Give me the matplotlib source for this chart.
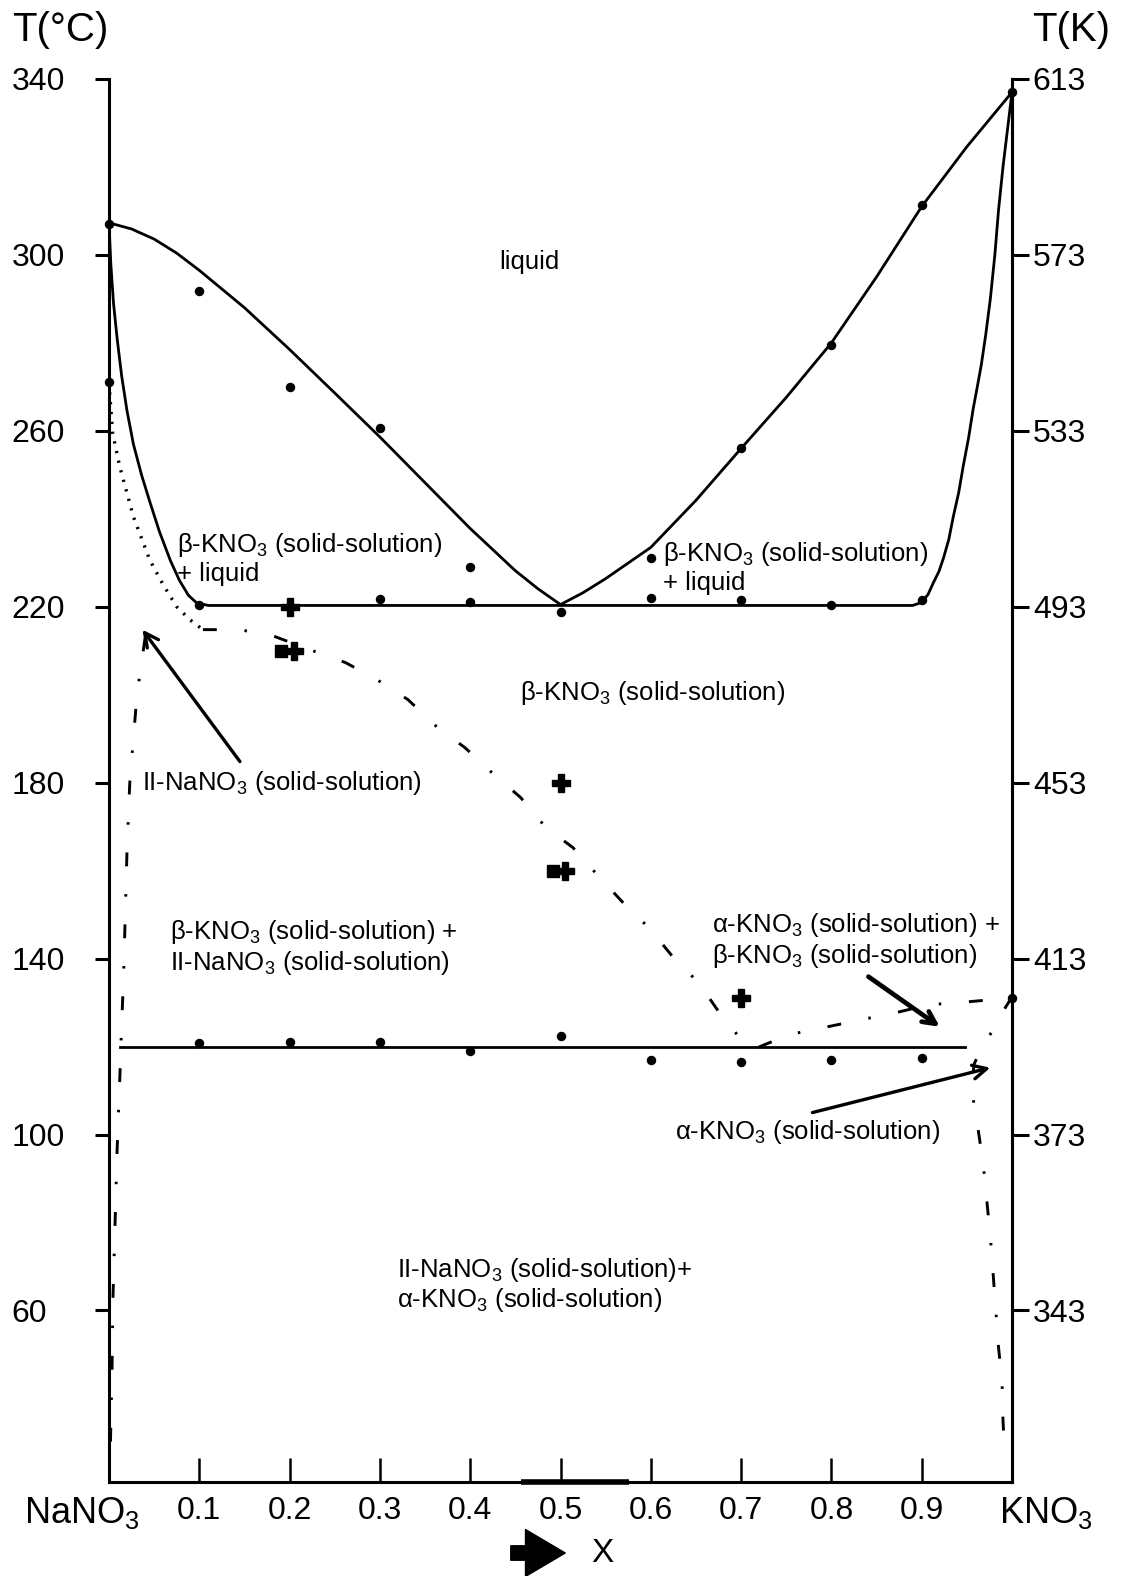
import matplotlib
matplotlib.use('Agg')
import matplotlib.pyplot as plt
import matplotlib.patches as mpatches

plt.rcParams['font.family'] = ['Liberation Sans', 'DejaVu Sans']
plt.rcParams['mathtext.fontset'] = 'custom'
plt.rcParams['mathtext.rm'] = 'Liberation Sans'
plt.rcParams['lines.scale_dashes'] = False

# ---------------- data (x = mole fraction KNO3, T in °C) ----------------
# liquidus
liq_left_x = [0.0, 0.025, 0.05, 0.075, 0.1, 0.15, 0.2, 0.25, 0.3, 0.35, 0.4, 0.45, 0.475, 0.5]
liq_left_T = [307.3, 305.9, 303.6, 300.4, 296.5, 288.0, 278.5, 268.6, 258.6, 248.2, 237.8, 228.2, 224.1, 220.5]
liq_right_x = [0.5, 0.525, 0.55, 0.6, 0.65, 0.7, 0.75, 0.8, 0.85, 0.9, 0.95, 1.0]
liq_right_T = [220.5, 223.2, 226.4, 233.5, 244.2, 256.0, 267.6, 280.0, 295.0, 311.0, 324.6, 337.0]
# solidus (left branch, eutectic line, right branch)
sol_x = [0.0, 0.002, 0.005, 0.009, 0.014, 0.02, 0.027, 0.036, 0.045, 0.056, 0.068, 0.078,
         0.088, 0.097, 0.11,
         0.89, 0.9, 0.907, 0.913, 0.919, 0.924, 0.93, 0.935, 0.941, 0.946, 0.952, 0.957,
         0.962, 0.966, 0.971, 0.976, 0.981, 0.985, 0.99, 0.995, 1.0]
sol_T = [307.3, 298.0, 289.0, 281.0, 272.5, 264.5, 257.0, 250.0, 244.0, 237.0, 230.5, 226.0,
         222.6, 220.9, 220.3,
         220.3, 221.0, 222.8, 225.5, 228.0, 231.0, 235.3, 240.5, 246.0, 252.0, 258.5, 265.0,
         270.5, 275.0, 282.0, 290.0, 300.0, 310.0, 320.0, 328.5, 337.0]
# dotted II-NaNO3 boundary
dot_x = [0.0, 0.004, 0.012, 0.027, 0.045, 0.06, 0.075, 0.09, 0.104]
dot_T = [271.0, 259.5, 251.8, 240.5, 230.7, 225.0, 220.0, 217.0, 214.8]
# dash-dot beta-KNO3 solvus (diagonal) and beta/alpha boundary
diag_x = [0.104, 0.145, 0.184, 0.223, 0.262, 0.297, 0.331, 0.363, 0.394, 0.424, 0.456,
          0.483, 0.514, 0.541, 0.568, 0.598, 0.624, 0.653, 0.675, 0.70, 0.715,
          0.753, 0.791, 0.833, 0.871, 0.908, 0.952, 0.985, 1.0]
diag_T = [214.8, 214.8, 213.2, 210.2, 207.3, 203.4, 198.9, 192.7, 188.0, 182.3, 176.6,
          170.0, 165.2, 159.0, 153.0, 147.0, 140.5, 134.5, 128.0, 121.6, 119.5,
          122.7, 124.3, 126.1, 127.7, 129.5, 130.2, 130.8, 131.3]
# dash-dot II-NaNO3 solvus (left)
lsolv_x = [0.04, 0.031, 0.027, 0.023, 0.02, 0.018, 0.016, 0.014, 0.012, 0.009, 0.0066, 0.0044, 0.0033, 0.0015, 0.001]
lsolv_T = [213.0, 200.0, 190.0, 180.0, 165.0, 150.0, 135.0, 125.0, 113.0, 96.6, 79.0, 63.0, 46.0, 29.0, 24.0]
# dash-dot alpha-KNO3 solvus (right)
rsolv_x = [1.0, 0.99, 0.98, 0.968, 0.958, 0.956, 0.958, 0.962, 0.968, 0.972, 0.976,
           0.979, 0.982, 0.985, 0.989, 0.99, 0.992]
rsolv_T = [131.3, 128.0, 124.0, 120.5, 116.0, 111.8, 106.0, 101.8, 93.6, 85.2, 76.8,
           68.6, 60.2, 51.8, 43.6, 35.2, 26.8]
# eutectoid line
eutd_x = [0.012, 0.948]
eutd_T = [120.0, 120.0]

# measured points
pts_liq_x = [0.0, 0.1, 0.2, 0.3, 0.4, 0.6, 0.7, 0.8, 0.9, 1.0, 0.0, 1.0]
pts_liq_T = [307.0, 291.8, 270.0, 260.7, 229.0, 231.0, 256.0, 279.5, 311.4, 337.0, 271.0, 131.0]
pts_sol_x = [0.1, 0.3, 0.4, 0.5, 0.6, 0.7, 0.8, 0.9]
pts_sol_T = [220.5, 221.8, 221.1, 218.9, 222.0, 221.6, 220.5, 221.6]
pts_eutd_x = [0.1, 0.2, 0.3, 0.4, 0.5, 0.6, 0.7, 0.8, 0.9]
pts_eutd_T = [120.9, 121.0, 121.0, 118.9, 122.3, 117.0, 116.4, 117.0, 117.5]
plus_x = [0.2, 0.205, 0.5, 0.505, 0.7]
plus_T = [220.0, 210.0, 180.0, 160.0, 131.0]
sq_x = [0.19, 0.492]
sq_T = [210.0, 160.0]

yticks = [340, 300, 260, 220, 180, 140, 100, 60]
yticks_K = ['613', '573', '533', '493', '453', '413', '373', '343']
xticks = [0.1, 0.2, 0.3, 0.4, 0.5, 0.6, 0.7, 0.8, 0.9]
xtick_labels = ['0.1', '0.2', '0.3', '0.4', '0.5', '0.6', '0.7', '0.8', '0.9']

# ---------------- figure ----------------
W, H = 1122, 1576
fig = plt.figure(figsize=(W / 100, H / 100), dpi=100)
L, R, B, T = 109, 1012, 1482, 79
ax = fig.add_axes([L / W, 1 - B / H, (R - L) / W, (B - T) / H])
ax.set_xlim(0, 1)
ax.set_ylim(21, 340)

k = 'black'
lw = 2.0
dashdot = (0, (10, 20, 1.8, 20))

ax.plot(liq_left_x, liq_left_T, color=k, lw=lw, solid_joinstyle='round')
ax.plot(liq_right_x, liq_right_T, color=k, lw=lw, solid_joinstyle='round')
ax.plot(sol_x, sol_T, color=k, lw=lw, solid_joinstyle='round')
ax.plot(eutd_x, eutd_T, color=k, lw=lw)
ax.plot(dot_x, dot_T, color=k, lw=2.4, ls=(0, (1.6, 5.5)))
ax.plot(diag_x, diag_T, color=k, lw=2.1, ls=dashdot)
ax.plot(lsolv_x, lsolv_T, color=k, lw=2.1, ls=dashdot)
ax.plot(rsolv_x, rsolv_T, color=k, lw=2.1, ls=dashdot)

ax.plot(pts_liq_x, pts_liq_T, 'o', color=k, ms=5.8, clip_on=False)
ax.plot(pts_sol_x, pts_sol_T, 'o', color=k, ms=5.8)
ax.plot(pts_eutd_x, pts_eutd_T, 'o', color=k, ms=5.8)
ax.plot(plus_x, plus_T, 'P', color=k, ms=13, ls='none')
ax.plot(sq_x, sq_T, 's', color=k, ms=9, ls='none')

# region labels
fs = 18.5
ax.text(0.466, 298.4, 'liquid', fontsize=fs, ha='center', va='center')
ax.text(0.075, 231.0, 'β-KNO$_\\mathregular{3}$ (solid-solution)\n+ liquid',
        fontsize=fs, ha='left', va='center', linespacing=1.15)
ax.text(0.613, 229.0, 'β-KNO$_\\mathregular{3}$ (solid-solution)\n+ liquid',
        fontsize=fs, ha='left', va='center', linespacing=1.15)
ax.text(0.455, 200.5, 'β-KNO$_\\mathregular{3}$ (solid-solution)',
        fontsize=fs, ha='left', va='center')
ax.text(0.037, 180.0, 'II-NaNO$_\\mathregular{3}$ (solid-solution)',
        fontsize=fs, ha='left', va='center')
ax.text(0.068, 142.5, 'β-KNO$_\\mathregular{3}$ (solid-solution) +\nII-NaNO$_\\mathregular{3}$ (solid-solution)',
        fontsize=fs, ha='left', va='center', linespacing=1.15)
ax.text(0.668, 144.2, 'α-KNO$_\\mathregular{3}$ (solid-solution) +\nβ-KNO$_\\mathregular{3}$ (solid-solution)',
        fontsize=fs, ha='left', va='center', linespacing=1.15)
ax.text(0.627, 100.5, 'α-KNO$_\\mathregular{3}$ (solid-solution)',
        fontsize=fs, ha='left', va='center')
ax.text(0.319, 65.7, 'II-NaNO$_\\mathregular{3}$ (solid-solution)+\nα-KNO$_\\mathregular{3}$ (solid-solution)',
        fontsize=fs, ha='left', va='center', linespacing=1.1)

# arrows
aprops = dict(arrowstyle='->,head_length=1.0,head_width=0.5', lw=2.4, color=k,
              shrinkA=0, shrinkB=0)
ax.annotate('', xy=(0.037, 214.8), xytext=(0.145, 184.8), arrowprops=aprops)
ax.annotate('', xy=(0.92, 124.5), xytext=(0.841, 135.9),
            arrowprops=dict(arrowstyle='->,head_length=0.9,head_width=0.45', lw=3.4,
                            color=k, shrinkA=0, shrinkB=0))
ax.annotate('', xy=(0.976, 115.2), xytext=(0.779, 105.0), arrowprops=aprops)

# axes styling
ax.spines['top'].set_visible(False)
for s in ['left', 'right', 'bottom']:
    ax.spines[s].set_linewidth(2.2)
ax.set_yticks(yticks)
ax.set_yticklabels([str(v) for v in yticks])
ax.tick_params(axis='y', direction='out', length=10, width=2.2, labelsize=23, pad=60)
for lab in ax.get_yticklabels():
    lab.set_horizontalalignment('left')
ax.set_xticks(xticks)
ax.set_xticklabels(xtick_labels)
ax.tick_params(axis='x', direction='in', length=17, width=1.8, labelsize=23, pad=10)

ax2 = ax.twinx()
ax2.set_ylim(ax.get_ylim())
ax2.set_yticks(yticks)
ax2.set_yticklabels(yticks_K)
ax2.tick_params(axis='y', direction='out', length=12, width=2.2, labelsize=23, pad=3)
for s in ['top', 'left', 'bottom']:
    ax2.spines[s].set_visible(False)
ax2.spines['right'].set_linewidth(2.2)

# end labels of composition axis
ax.text(-0.03, 18.0, 'NaNO$_\\mathregular{3}$', fontsize=26, ha='center', va='top')
ax.text(1.038, 18.0, 'KNO$_\\mathregular{3}$', fontsize=26, ha='center', va='top')

# thick segment on bottom axis
ax.plot([0.456, 0.576], [21, 21], color=k, lw=4.0, clip_on=False, solid_capstyle='butt')

# axis titles
fig.text(12 / W, 1 - 30 / H, 'T(°C)', fontsize=29, ha='left', va='center')
fig.text(1110 / W, 1 - 30 / H, 'T(K)', fontsize=29, ha='right', va='center')

# composition arrow
fig.patches.append(mpatches.FancyArrowPatch(
    (508 / W, 1 - 1553 / H), (568 / W, 1 - 1553 / H), transform=fig.transFigure,
    arrowstyle='simple,head_length=1.1,head_width=1.3,tail_width=0.4',
    mutation_scale=26, color=k))
fig.text(602 / W, 1 - 1553 / H, 'X', fontsize=24, ha='center', va='center')

fig.savefig('out.png', dpi=100)
